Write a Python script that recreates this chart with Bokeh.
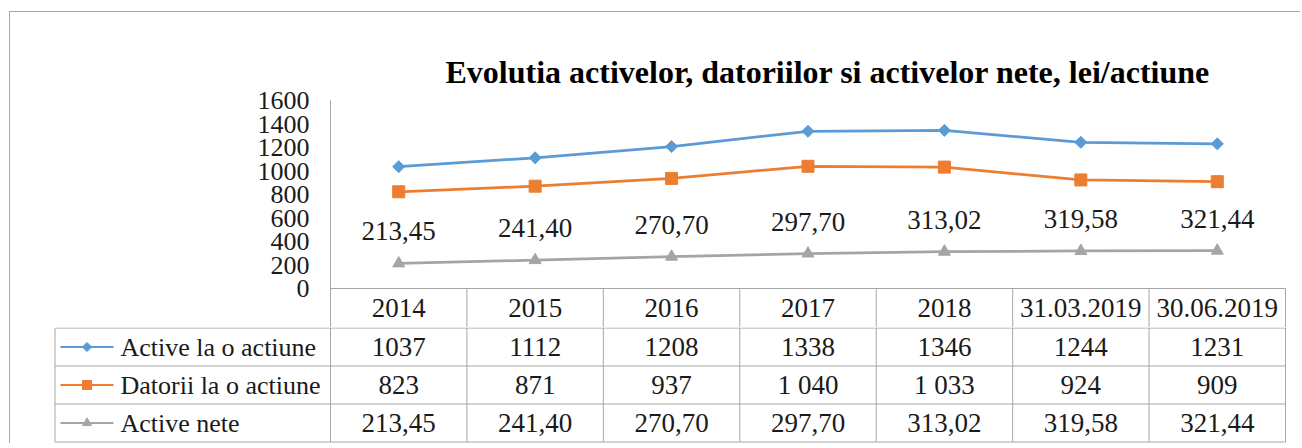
import numpy as np
from bokeh.plotting import figure
from bokeh.models import Range1d, FixedTicker, ColumnDataSource
from bokeh.layouts import column
from bokeh.embed import file_html
from bokeh.resources import INLINE
from bokeh.core.properties import value

# ---------------- data ----------------
categories = ["2014", "2015", "2016", "2017", "2018", "31.03.2019", "30.06.2019"]
active = [1037, 1112, 1208, 1338, 1346, 1244, 1231]
datorii = [823, 871, 937, 1040, 1033, 924, 909]
nete = [213.45, 241.40, 270.70, 297.70, 313.02, 319.58, 321.44]
series_names = ["Active la o actiune", "Datorii la o actiune", "Active nete"]
y_ticks = [0, 200, 400, 600, 800, 1000, 1200, 1400, 1600]
title_text = "Evolutia activelor, datoriilor si activelor nete, lei/actiune"


def fmt_plain(v):
    return str(v)


def fmt_space(v):
    return f"{v:,}".replace(",", " ")


def fmt_dec(v):
    return f"{v:.2f}".replace(".", ",")


# ---------------- style / geometry (page pixels) ----------------
SERIF = "Liberation Serif"
TEXT = "#1a1a1a"
GRID = "#a6a6a6"
BLUE = "#5B9BD5"
ORANGE = "#ED7D31"
GRAY = "#A5A5A5"
colors = [BLUE, ORANGE, GRAY]
markers = [("square", np.pi / 4, 8.5), ("square", 0.0, 12), ("triangle", 0.0, 12)]
key_markers = [("square", np.pi / 4, 6.5), ("square", 0.0, 9), ("triangle", 0.0, 9)]

ORG_X, ORG_Y = 10, 12          # page position of the figures (after margin + border)
FIG_W = 1290
PLOT_L, PLOT_R = 330, 1285     # category columns
FRAME_R = 1287
PLOT_T, ZERO_Y = 100, 288      # value 1600 / value 0
HEAD_B = 327                   # bottom of header row
TAB_B = 443
ROW_H = 38
LEG_L = 54.5
n = len(categories)
COL_W = (PLOT_R - PLOT_L) / n
K = (ZERO_Y - PLOT_T) / y_ticks[-1]


def ux(px):
    return (px - PLOT_L) / COL_W


xs = [i + 0.5 for i in range(n)]

# ---------------- chart (with header row of the table) ----------------
TOP_H = HEAD_B - ORG_Y
p = figure(width=FIG_W, height=TOP_H,
           x_range=Range1d(0, ux(FRAME_R)),
           y_range=Range1d(-(HEAD_B - ZERO_Y) / K, y_ticks[-1]),
           output_backend="svg", toolbar_location=None, x_axis_location=None,
           min_border_left=PLOT_L - ORG_X, min_border_right=ORG_X + FIG_W - FRAME_R,
           min_border_top=PLOT_T - ORG_Y, min_border_bottom=0,
           title=title_text)
p.frame_align = False
p.extra_y_ranges = {"table": Range1d(1, -(ZERO_Y - PLOT_T) / (HEAD_B - ZERO_Y))}
p.outline_line_color = None
p.xgrid.visible = False
p.ygrid.visible = False
p.title.text_font = SERIF
p.title.text_font_size = "32px"
p.title.text_font_style = "bold"
p.title.text_color = "#000000"
p.title.align = "left"
p.title.offset = 115
p.title.standoff = 22

ax = p.yaxis[0]
ax.ticker = FixedTicker(ticks=y_ticks)
ax.axis_line_color = GRID
ax.axis_line_width = 1
ax.major_tick_line_color = None
ax.minor_tick_line_color = None
ax.major_tick_out = 0
ax.major_tick_in = 0
ax.major_label_standoff = 21
ax.major_label_text_font = SERIF
ax.major_label_text_font_size = "26px"
ax.major_label_text_color = TEXT

src = ColumnDataSource(dict(x=xs, active=active, datorii=datorii, nete=nete,
                            nete_lbl=[fmt_dec(v) for v in nete]))
for col, c, (m, ang, sz) in zip(["active", "datorii", "nete"], colors, markers):
    p.line("x", col, source=src, line_color=c, line_width=2.75)
    p.scatter("x", col, source=src, marker=m, angle=ang, size=sz,
              fill_color=c, line_color=c)

cell_font = dict(text_align="center", text_baseline="middle",
                 text_font=value(SERIF), text_font_size="27px", text_color=TEXT)

p.text("x", "nete", text="nete_lbl", source=src, y_offset=-32, **cell_font)

# header row
p.segment(x0=[0], y0=[0], x1=[n], y1=[0], line_color=GRID, line_width=1, y_range_name="table")
hb = list(range(1, n + 1))
p.segment(x0=hb, y0=[0] * n, x1=hb, y1=[1] * n, line_color=GRID, line_width=1, y_range_name="table")
p.text(x=xs, y=[0.5] * n, text=categories, y_range_name="table", **cell_font)

# ---------------- data rows of the table ----------------
BOT_H = TAB_B - HEAD_B
FR_L = 53
t = figure(width=FIG_W, height=BOT_H,
           x_range=Range1d(ux(FR_L), ux(FRAME_R)),
           y_range=Range1d((BOT_H - 0.5) / ROW_H, -0.5 / ROW_H),
           output_backend="svg", toolbar_location=None,
           x_axis_location=None, y_axis_location=None,
           min_border_left=FR_L - ORG_X, min_border_right=ORG_X + FIG_W - FRAME_R,
           min_border_top=0, min_border_bottom=0)
t.frame_align = False
t.outline_line_color = None
t.xgrid.visible = False
t.ygrid.visible = False

L = ux(LEG_L)
hy = [0, 1, 2, 3]
t.segment(x0=[L] * 4, y0=hy, x1=[n] * 4, y1=hy, line_color=GRID, line_width=1)
vx = list(range(n + 1)) + [L]
t.segment(x0=vx, y0=[0] * (n + 2), x1=vx, y1=[3] * (n + 2), line_color=GRID, line_width=1)

rows = [[fmt_plain(v) for v in active], [fmt_space(v) for v in datorii], [fmt_dec(v) for v in nete]]
for r, vals in enumerate(rows):
    t.text(x=xs, y=[r + 0.5] * n, text=vals, **cell_font)

for r, (name, c, (m, ang, sz)) in enumerate(zip(series_names, colors, key_markers)):
    yc = r + 0.5
    t.segment(x0=[ux(60)], y0=[yc], x1=[ux(113)], y1=[yc], line_color=c, line_width=2)
    t.scatter(x=[ux(86.5)], y=[yc], marker=m, angle=ang, size=sz, fill_color=c, line_color=c)
    t.text(x=[ux(120)], y=[yc], text=[name], text_align="left", text_baseline="middle",
           text_font=value(SERIF), text_font_size="26px", text_color=TEXT)

layout = column(p, t, spacing=0,
                styles={"margin-left": "9px", "margin-top": "11px",
                        "border-left": "1px solid #a6a6a6", "border-top": "1px solid #a6a6a6"})

open("out.html", "w").write(file_html(layout, INLINE))
